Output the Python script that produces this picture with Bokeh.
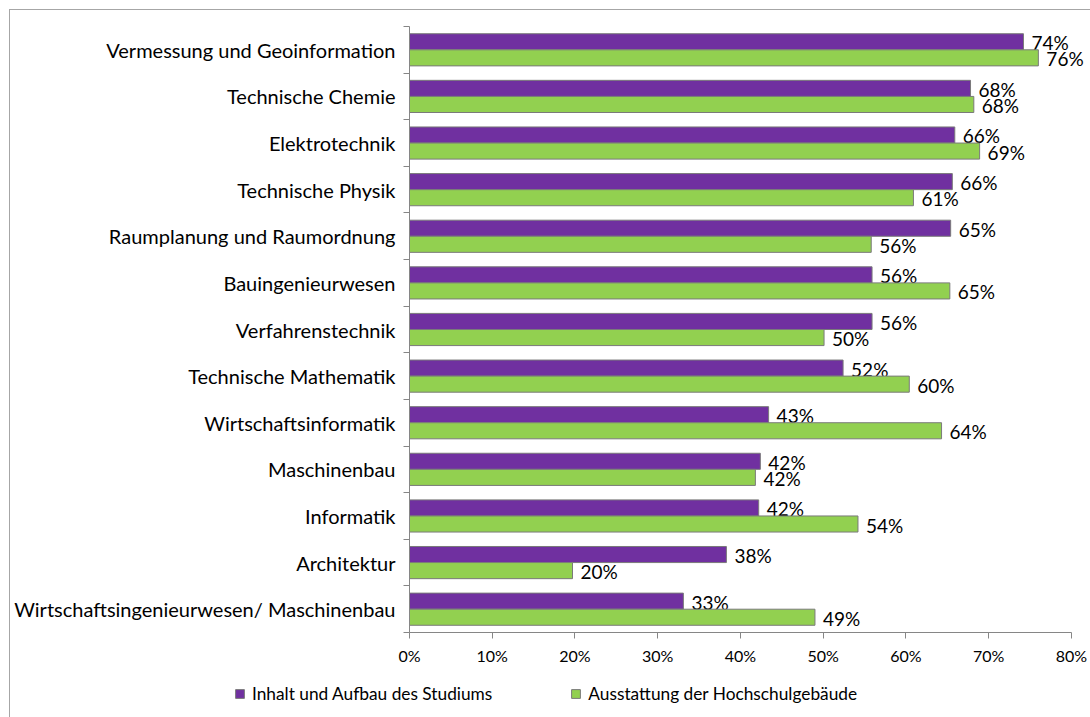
from bokeh.plotting import figure
from bokeh.layouts import column, row
from bokeh.models import (Range1d, LinearAxis, FixedTicker, PrintfTickFormatter,
                          Legend, LegendItem, ColumnDataSource)
from bokeh.core.properties import value
from bokeh.embed import file_html
from bokeh.resources import INLINE

categories = [
    "Vermessung und Geoinformation",
    "Technische Chemie",
    "Elektrotechnik",
    "Technische Physik",
    "Raumplanung und Raumordnung",
    "Bauingenieurwesen",
    "Verfahrenstechnik",
    "Technische Mathematik",
    "Wirtschaftsinformatik",
    "Maschinenbau",
    "Informatik",
    "Architektur",
    "Wirtschaftsingenieurwesen/ Maschinenbau",
]
inhalt = [74.2, 67.8, 65.9, 65.6, 65.4, 55.9, 55.9, 52.4, 43.4, 42.4, 42.2, 38.3, 33.1]
ausstattung = [76.0, 68.2, 68.9, 60.9, 55.8, 65.3, 50.1, 60.4, 64.3, 41.8, 54.2, 19.7, 49.0]
series_names = ["Inhalt und Aufbau des Studiums", "Ausstattung der Hochschulgebäude"]
series_colors = ["#7030A0", "#92D050"]
x_ticks = [0, 10, 20, 30, 40, 50, 60, 70, 80]

FONT = "Lato"
TXT = "#000000"
GREY = "#868686"
BAR_LINE = "#7a7a7a"

n = len(categories)
centers = [n - i - 0.5 for i in range(n)]
bounds = list(range(n + 1))
bar_h = 0.345
x_end = 82.3  # room right of the 80% tick for the value labels

p = figure(width=1081, height=663, output_backend="svg", toolbar_location=None,
           x_range=Range1d(0, x_end), y_range=Range1d(0, n),
           x_axis_location=None, y_axis_location=None,
           min_border_left=399, min_border_right=1, min_border_top=16, min_border_bottom=41)
p.outline_line_color = None
p.xgrid.visible = False
p.ygrid.visible = False
p.styles = {"border-top": "1px solid #a6a6a6", "border-left": "1px solid #a6a6a6"}

sources = []
for k, (vals, off) in enumerate([(inhalt, bar_h / 2), (ausstattung, -bar_h / 2)]):
    src = ColumnDataSource(dict(
        y=[c + off for c in centers],
        v=vals,
        lbl=[f"{round(v)}%" for v in vals],
    ))
    sources.append(src)
    p.hbar(y="y", left=0, right="v", height=bar_h, source=src,
           fill_color=series_colors[k], line_color=BAR_LINE, line_width=1)
    p.text(x="v", y="y", text="lbl", source=src, x_offset=8, y_offset=1,
           text_baseline="middle", text_align="left",
           text_font=value(FONT), text_font_size="19px", text_color=TXT)

# y-axis: names at category centres, ticks at category boundaries
yax = LinearAxis(ticker=FixedTicker(ticks=centers, minor_ticks=bounds))
yax.major_label_overrides = {c: name for c, name in zip(centers, categories)}
yax.axis_line_color = GREY
yax.major_tick_line_color = None
yax.major_tick_out = 6
yax.major_tick_in = 0
yax.minor_tick_line_color = GREY
yax.minor_tick_out = 6
yax.minor_tick_in = 0
yax.major_label_standoff = 8
yax.major_label_text_font = FONT
yax.major_label_text_font_size = "20px"
yax.major_label_text_color = TXT
p.add_layout(yax, "left")

# x-axis (line limited to 0..80)
xax = LinearAxis(ticker=FixedTicker(ticks=x_ticks), formatter=PrintfTickFormatter(format="%d%%"),
                 bounds=(0, 80))
xax.major_tick_out = 6
xax.major_tick_in = 0
xax.minor_tick_line_color = None
xax.axis_line_color = GREY
xax.major_tick_line_color = GREY
xax.major_label_standoff = 7
xax.major_label_text_font = FONT
xax.major_label_text_font_size = "16px"
xax.major_label_text_color = TXT
p.add_layout(xax, "below")

# legend strip below the chart (same series, bars hidden: only the legend shows)
lf = figure(width=1081, height=45, output_backend="svg", toolbar_location=None,
            x_range=Range1d(0, x_end), y_range=Range1d(0, n),
            x_axis_location=None, y_axis_location=None,
            min_border_left=0, min_border_right=0, min_border_top=0, min_border_bottom=0)
lf.outline_line_color = None
lf.xgrid.visible = False
lf.ygrid.visible = False
lf.styles = {"border-left": "1px solid #a6a6a6"}
items = []
for k in range(2):
    r = lf.hbar(y="y", left=0, right="v", height=bar_h, source=sources[k],
                fill_color=series_colors[k], line_color=BAR_LINE, line_width=1, visible=False)
    items.append(LegendItem(label=series_names[k], renderers=[r]))
legend = Legend(items=items, orientation="horizontal", location=(224, 13),
                glyph_width=11, glyph_height=11, spacing=78, padding=0, margin=0,
                label_standoff=7, label_text_font=FONT, label_text_font_size="17.3px",
                label_text_color=TXT, border_line_color=None, background_fill_alpha=0,
                inactive_fill_alpha=0)
lf.add_layout(legend, "center")

layout = column(p, row(lf), spacing=0, margin=(9, 0, 0, 9))
open("out.html", "w").write(file_html(layout, INLINE))
